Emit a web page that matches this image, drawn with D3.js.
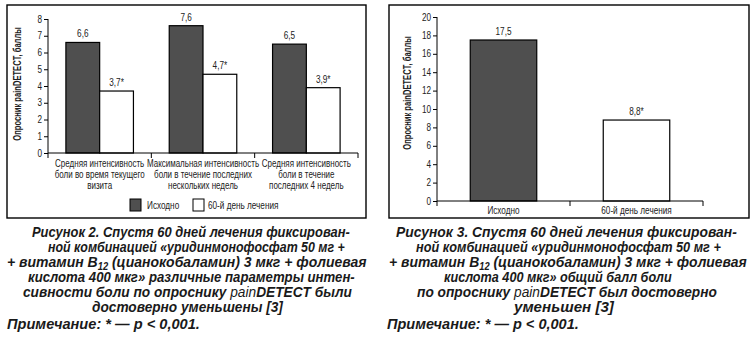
<!DOCTYPE html>
<html><head><meta charset="utf-8">
<script src="https://cdn.jsdelivr.net/npm/d3@7"></script>
<style>
html,body{margin:0;padding:0;background:#fff;}
svg{display:block;}
</style></head>
<body>
<svg id="c" width="754" height="339"></svg>
<script>
// ---------- data ----------
const categories2 = [
  ["Средняя интенсивность","боли во время текущего","визита"],
  ["Максимальная интенсивность","боли в течение последних","нескольких недель"],
  ["Средняя интенсивность","боли в течение","последних 4 недель"]
];
const seriesNames = ["Исходно","60-й день лечения"];
const baseline2 = [6.6, 7.6, 6.5];
const day60_2 = [3.7, 4.7, 3.9];
const sig2 = [false, true];           // asterisk per series
const yTicks2 = [0,1,2,3,4,5,6,7,8];

const categories3 = ["Исходно","60-й день лечения"];
const values3 = [17.5, 8.8];
const sig3 = [false, true];
const yTicks3 = [0,2,4,6,8,10,12,14,16,18,20];

const yTitle = "Опросник painDETECT, баллы";

const caption2 = [
  "Рисунок 2. Спустя 60 дней лечения фиксирован-",
  "ной комбинацией «уридинмонофосфат 50 мг +",
  "+ витамин B|12| (цианокобаламин) 3 мкг + фолиевая",
  "кислота 400 мкг» различные параметры интен-",
  "сивности боли по опроснику ~pain~DETECT были",
  "достоверно уменьшены [3]"
];
const caption3 = [
  "Рисунок 3. Спустя 60 дней лечения фиксирован-",
  "ной комбинацией «уридинмонофосфат 50 мг +",
  "+ витамин B|12| (цианокобаламин) 3 мкг + фолиевая",
  "кислота 400 мкг» общий балл боли",
  "по опроснику ~pain~DETECT был достоверно",
  "уменьшен [3]"
];
const note = "Примечание: * — p < 0,001.";

// ---------- styling ----------
const DARK = "#4f4f4f";
const TXT = "#222";
const FONT = "'Liberation Sans',Arial,sans-serif";
const K = 0.82; // horizontal condensing of chart labels
const fmt = v => String(v).replace(".", ",");

const svg = d3.select("#c");

// condensed label: anchor point (x,y), optional rotation
function label(parent, x, y, lines, opts={}) {
  const g = parent.append("g")
    .attr("transform",`translate(${x},${y})${opts.rotate?` rotate(${opts.rotate})`:""} scale(${opts.k||K},1)`);
  const t = g.append("text").attr("text-anchor",opts.anchor||"middle")
    .attr("font-family",FONT).attr("font-size",opts.size||10)
    .attr("font-weight",opts.bold?"bold":"normal").attr("fill",TXT);
  [].concat(lines).forEach((ln,k)=>t.append("tspan").attr("x",0).attr("y",k*(opts.lh||11)).text(ln));
  return t;
}

// panel boxes
svg.append("rect").attr("x",7).attr("y",5).attr("width",359).attr("height",213)
  .attr("fill","none").attr("stroke","#000").attr("stroke-width",1.4);
svg.append("rect").attr("x",389).attr("y",5).attr("width",360).attr("height",213)
  .attr("fill","none").attr("stroke","#000").attr("stroke-width",1.4);

function yAxis(g, y, ticks, x0) {
  const ax = g.append("g").attr("transform",`translate(${x0},0)`)
    .call(d3.axisLeft(y).tickValues(ticks).tickSize(4).tickFormat(""));
  ax.select(".domain").attr("stroke","#000").attr("stroke-width",1).attr("d",`M0,${y.range()[0]}V${y.range()[1]}`);
  ax.selectAll(".tick line").attr("stroke","#000");
  ticks.forEach(v=>label(g, x0-6, y(v)+3.5, String(v), {anchor:"end"}));
}

// ---------- Chart 2 ----------
{
  const g = svg.append("g");
  const y = d3.scaleLinear().domain([0,8]).range([153,19]);
  const x0 = d3.scaleBand().domain(d3.range(categories2.length)).range([48,358]).padding(0);
  const x1 = d3.scaleBand().domain(seriesNames).range([0,x0.bandwidth()]).paddingInner(0).paddingOuter(0.53);
  const vals = [baseline2, day60_2];

  seriesNames.forEach((s,si)=>{
    g.selectAll(null).data(vals[si]).enter().append("rect")
      .attr("x",(d,i)=>x0(i)+x1(s)).attr("y",d=>y(d))
      .attr("width",x1.bandwidth()).attr("height",d=>y(0)-y(d))
      .attr("fill",si===0?DARK:"#fff").attr("stroke","#000").attr("stroke-width",1.2);
    vals[si].forEach((d,i)=>label(g, x0(i)+x1(s)+x1.bandwidth()/2, y(d)-5, fmt(d)+(sig2[si]?"*":"")));
  });

  yAxis(g, y, yTicks2, 48);
  g.append("line").attr("x1",48).attr("x2",358).attr("y1",y(0)).attr("y2",y(0)).attr("stroke","#000");
  const edges = x0.domain().map(i=>x0(i)).concat([x0.range()[1]]);
  g.selectAll(null).data(edges).enter().append("line")
    .attr("x1",d=>d).attr("x2",d=>d).attr("y1",y(0)).attr("y2",y(0)+5).attr("stroke","#000");
  categories2.forEach((lines,i)=>label(g, x0(i)+x0.bandwidth()/2, 167, lines, {lh:11, k:0.8}));
  label(g, 21, 84, yTitle, {rotate:-90, bold:true, k:0.76});
  const lx = [130,193];
  seriesNames.forEach((s,si)=>{
    g.append("rect").attr("x",lx[si]).attr("y",199).attr("width",11).attr("height",12)
      .attr("fill",si===0?DARK:"#fff").attr("stroke","#000").attr("stroke-width",1);
    label(g, lx[si]+(si===0?17:15), 209, s, {anchor:"start"});
  });
}

// ---------- Chart 3 ----------
{
  const g = svg.append("g");
  const y = d3.scaleLinear().domain([0,20]).range([201,17]);
  const x = d3.scaleBand().domain(categories3).range([437,703]).paddingInner(0.5).paddingOuter(0.25);
  g.selectAll(null).data(values3).enter().append("rect")
    .attr("x",(d,i)=>x(categories3[i])).attr("y",d=>y(d))
    .attr("width",x.bandwidth()).attr("height",d=>y(0)-y(d))
    .attr("fill",(d,i)=>i===0?DARK:"#fff").attr("stroke","#000").attr("stroke-width",1.2);
  values3.forEach((d,i)=>label(g, x(categories3[i])+x.bandwidth()/2, y(d)-5, fmt(d)+(sig3[i]?"*":"")));
  yAxis(g, y, yTicks3, 437);
  g.append("line").attr("x1",437).attr("x2",703).attr("y1",y(0)).attr("y2",y(0)).attr("stroke","#000");
  const edges = [437, 437+x.step(), 703];
  g.selectAll(null).data(edges).enter().append("line")
    .attr("x1",d=>d).attr("x2",d=>d).attr("y1",y(0)).attr("y2",y(0)+5).attr("stroke","#000");
  categories3.forEach(d=>label(g, x(d)+x.bandwidth()/2, 214, d));
  label(g, 411, 93, yTitle, {rotate:-90, bold:true, k:0.76});
}

// ---------- captions ----------
function captionLine(str, x0, x1, baseline) {
  const t = svg.append("text").attr("font-family",FONT).attr("font-size",15)
    .attr("font-weight","bold").attr("font-style","italic").attr("fill","#1a1a1a");
  const parts = str.split(/(\|[^|]*\||~[^~]*~)/).filter(p=>p.length);
  parts.forEach(p=>{
    if (p[0]==="|") {
      t.append("tspan").attr("font-size",10).attr("baseline-shift","-3").text(p.slice(1,-1));
    } else if (p[0]==="~") {
      t.append("tspan").attr("font-weight","normal").text(p.slice(1,-1));
    } else t.append("tspan").text(p);
  });
  const w = t.node().getComputedTextLength();
  const sx = (x1-x0)/w;
  t.attr("transform",`translate(${x0},${baseline}) scale(${sx},1)`);
}
const rows2 = [[32,350],[48,345],[7,367],[28,355],[23,352],[92,283]];
const rows3 = [[396,737],[416,721],[389,747],[444,672],[417,717],[514,614]];
const bases = [237,252,267,282,297,312];
caption2.forEach((s,i)=>captionLine(s, rows2[i][0], rows2[i][1], bases[i]));
caption3.forEach((s,i)=>captionLine(s, rows3[i][0], rows3[i][1], bases[i]));
captionLine(note, 7, 200, 329);
captionLine(note, 387, 579, 329);
</script>
</body></html>
